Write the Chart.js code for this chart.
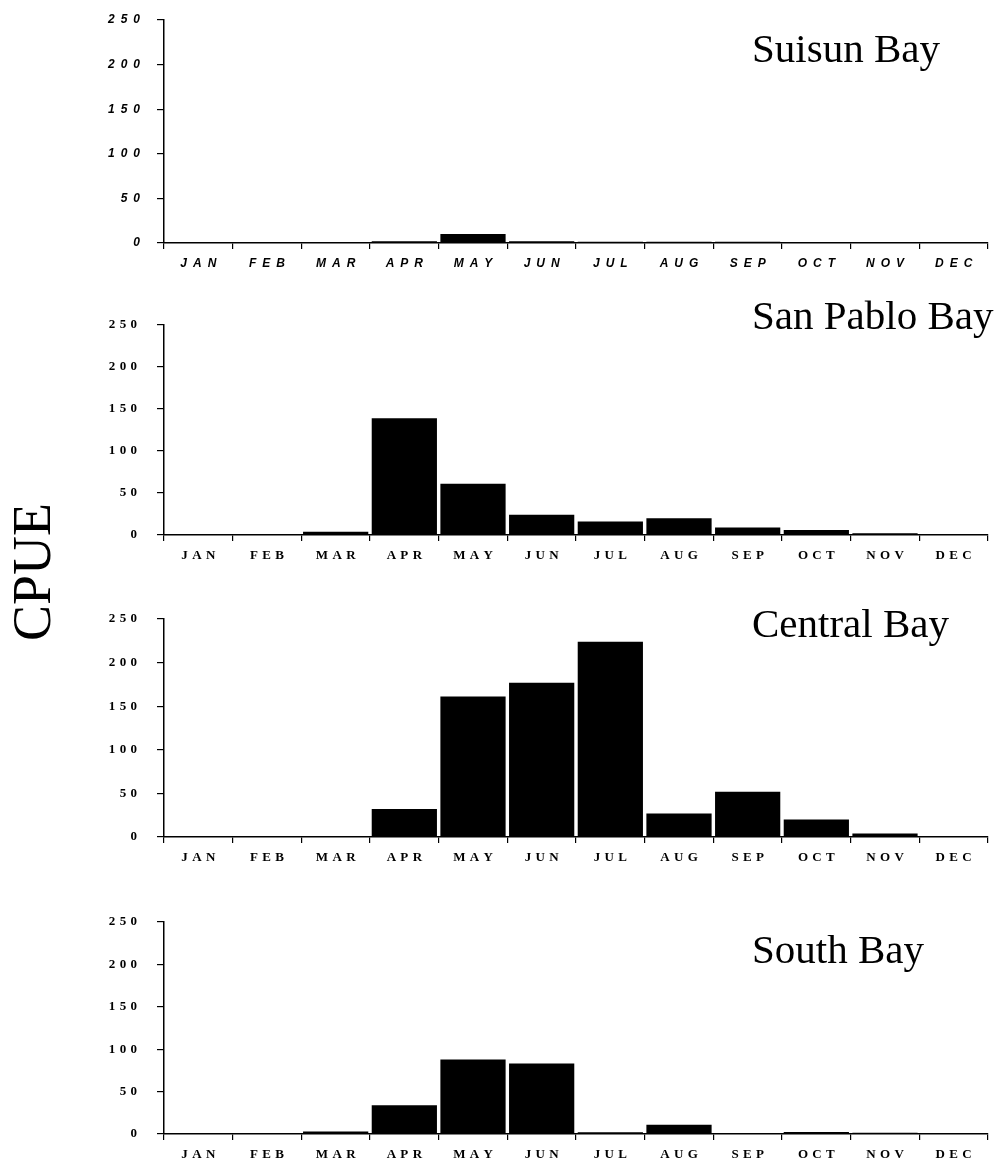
<!DOCTYPE html>
<html>
<head>
<meta charset="utf-8">
<script src="https://cdn.jsdelivr.net/npm/chart.js"></script>
<style>
  body { margin: 0; background: #fff; }
  #page { position: relative; width: 1001px; height: 1165px; overflow: hidden; }
  .panel { position: absolute; left: 0; }
  #cpue {
    position: absolute; left: 32px; top: 572px;
    transform: translate(-50%, -50%) rotate(-90deg);
    font-family: "Liberation Serif", serif; font-size: 54px; color: #000;
    white-space: nowrap;
  }
</style>
</head>
<body>
<div id="page">
  <div id="cpue">CPUE</div>
</div>
<script>
'use strict'

// data
const months = ["JAN", "FEB", "MAR", "APR", "MAY", "JUN", "JUL", "AUG", "SEP", "OCT", "NOV", "DEC"];
const yTicks = [0, 50, 100, 150, 200, 250];
const bays = ["Suisun Bay", "San Pablo Bay", "Central Bay", "South Bay"];
const suisun = [0.3, 0.3, 0.6, 2, 10, 2, 1.5, 1.5, 1.5, 1, 0.5, 0.5];
const sanPablo = [1, 0.5, 4, 139, 61, 24, 16, 20, 9, 6, 2, 1];
const central = [1, 1, 1, 32, 161, 177, 224, 27, 52, 20, 4, 1];
const south = [0.5, 0.5, 3, 34, 88, 83, 2, 11, 1, 2.5, 1.5, 1];

// layout of each panel (page pixels)
const panels = [
  { name: bays[0], values: suisun,   top: 20,  bottom: 243, titleY: 62,  sans: true },
  { name: bays[1], values: sanPablo, top: 325, bottom: 535, titleY: 329, sans: false },
  { name: bays[2], values: central,  top: 619, bottom: 837, titleY: 637, sans: false },
  { name: bays[3], values: south,    top: 922, bottom: 1134, titleY: 963, sans: false }
];

const page = document.getElementById("page");
const headroom = 40;   // canvas space above the plot, room for the bay name

function spaced(s, gap) {
  return String(s).split('').join(gap);
}

panels.forEach(function(p) {
  var wrapTop = p.top - headroom;
  var h = p.bottom - p.top + headroom + 40;
  var div = document.createElement("div");
  div.className = "panel";
  div.style.top = wrapTop + "px";
  var cv = document.createElement("canvas");
  cv.width = 1001;
  cv.height = h;
  cv.style.width = "1001px";
  cv.style.height = h + "px";
  div.appendChild(cv);
  page.appendChild(div);

  var font = p.sans
    ? { family: '"Liberation Sans", Arial, sans-serif', size: 12, weight: 'bold', style: 'italic' }
    : { family: '"Liberation Serif", "Times New Roman", serif', size: 13, weight: 'bold' };
  var gap = p.sans ? '\u2002' : '\u2004';

  var titlePlugin = {
    id: 'bayTitle',
    afterDraw: function(chart) {
      var ctx = chart.ctx;
      ctx.save();
      ctx.fillStyle = '#000';
      ctx.font = '41px "Liberation Serif", "Times New Roman", serif';
      ctx.textAlign = 'left';
      ctx.textBaseline = 'alphabetic';
      ctx.fillText(p.name, 752, p.titleY - wrapTop);
      ctx.restore();
    }
  };

  new Chart(cv.getContext('2d'), {
    type: 'bar',
    data: {
      labels: months,
      datasets: [{
        label: p.name,
        data: p.values,
        backgroundColor: '#000',
        borderWidth: 0,
        barPercentage: 0.95,
        categoryPercentage: 1
      }]
    },
    options: {
      responsive: false,
      animation: false,
      layout: { padding: { left: 64, right: 13, top: headroom, bottom: 0 } },
      plugins: { legend: { display: false }, tooltip: { enabled: false } },
      scales: {
        x: {
          grid: { offset: true, drawOnChartArea: false, tickLength: 6, color: '#000', lineWidth: 1.2 },
          border: { color: '#000', width: 1.5 },
          ticks: {
            color: '#000', font: font, padding: 7, maxRotation: 0, autoSkip: false,
            callback: function(v, i) { return spaced(months[i], gap); }
          },
          afterFit: function(a) { a.height = 40; }
        },
        y: {
          min: 0, max: 250,
          afterBuildTicks: function(a) { a.ticks = yTicks.map(function(v) { return { value: v }; }); },
          grid: { drawOnChartArea: false, tickLength: 7, color: '#000', lineWidth: 1.2 },
          border: { color: '#000', width: 1.5 },
          ticks: {
            color: '#000', font: font, padding: p.sans ? 17 : 20,
            callback: function(v) { return spaced(v, gap); }
          },
          afterFit: function(a) { a.width = 100; }
        }
      }
    },
    plugins: [titlePlugin]
  });
});
</script>
</body>
</html>
